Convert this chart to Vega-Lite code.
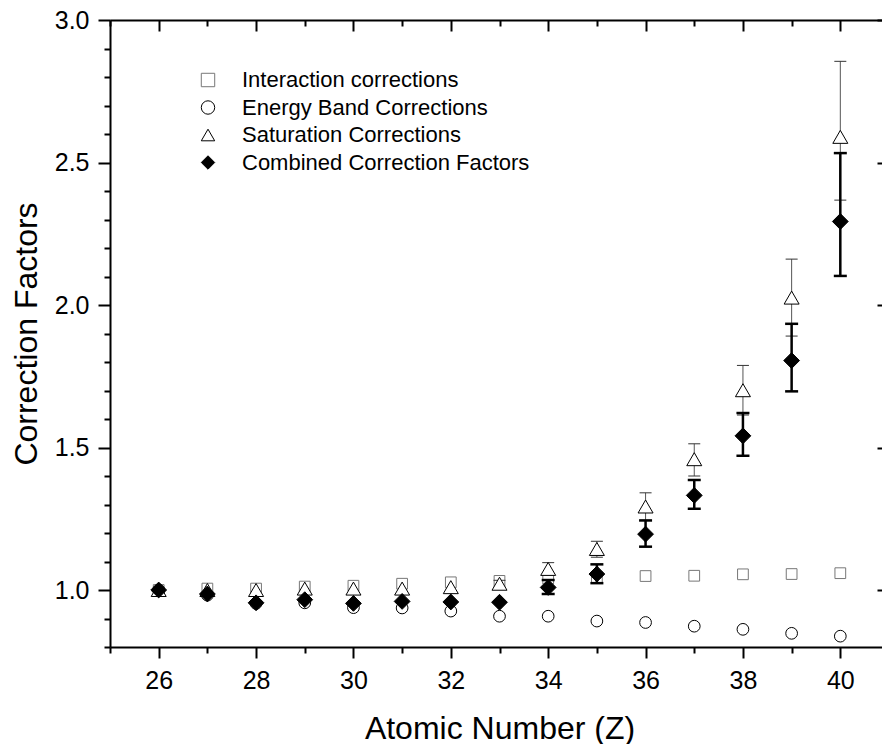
{
  "$schema": "https://vega.github.io/schema/vega-lite/v6.json",
  "width": 779,
  "height": 627,
  "autosize": {"type": "none"},
  "padding": {"left": 110, "top": 20, "right": -7, "bottom": 97},
  "background": "white",
  "config": {
    "view": {"stroke": null},
    "font": "Liberation Sans",
    "axis": {
      "grid": false,
      "domainColor": "black",
      "domainWidth": 2,
      "tickColor": "black",
      "tickWidth": 2,
      "labelFont": "Liberation Sans",
      "labelFontSize": 25,
      "labelColor": "black",
      "titleFont": "Liberation Sans",
      "titleFontSize": 32,
      "titleFontWeight": "normal",
      "titleColor": "black"
    },
    "legend": {
      "labelFont": "Liberation Sans",
      "labelFontSize": 22,
      "labelColor": "black",
      "labelLimit": 0,
      "symbolStrokeWidth": 1,
      "symbolSize": 180,
      "rowPadding": 5.5,
      "labelOffset": 23,
      "padding": 0
    }
  },
  "datasets": {
    "pts": [
      {"Z": 26, "series": "Interaction corrections", "value": 1.0},
      {"Z": 27, "series": "Interaction corrections", "value": 1.005},
      {"Z": 28, "series": "Interaction corrections", "value": 1.005},
      {"Z": 29, "series": "Interaction corrections", "value": 1.012},
      {"Z": 30, "series": "Interaction corrections", "value": 1.015},
      {"Z": 31, "series": "Interaction corrections", "value": 1.022},
      {"Z": 32, "series": "Interaction corrections", "value": 1.027},
      {"Z": 33, "series": "Interaction corrections", "value": 1.032},
      {"Z": 34, "series": "Interaction corrections", "value": 1.04},
      {"Z": 35, "series": "Interaction corrections", "value": 1.045},
      {"Z": 36, "series": "Interaction corrections", "value": 1.049},
      {"Z": 37, "series": "Interaction corrections", "value": 1.05},
      {"Z": 38, "series": "Interaction corrections", "value": 1.055},
      {"Z": 39, "series": "Interaction corrections", "value": 1.056},
      {"Z": 40, "series": "Interaction corrections", "value": 1.059},
      {"Z": 26, "series": "Energy Band Corrections", "value": 1.0},
      {"Z": 27, "series": "Energy Band Corrections", "value": 0.982},
      {"Z": 28, "series": "Energy Band Corrections", "value": 0.953},
      {"Z": 29, "series": "Energy Band Corrections", "value": 0.955},
      {"Z": 30, "series": "Energy Band Corrections", "value": 0.938},
      {"Z": 31, "series": "Energy Band Corrections", "value": 0.937},
      {"Z": 32, "series": "Energy Band Corrections", "value": 0.926},
      {"Z": 33, "series": "Energy Band Corrections", "value": 0.908},
      {"Z": 34, "series": "Energy Band Corrections", "value": 0.908},
      {"Z": 35, "series": "Energy Band Corrections", "value": 0.891},
      {"Z": 36, "series": "Energy Band Corrections", "value": 0.886},
      {"Z": 37, "series": "Energy Band Corrections", "value": 0.873},
      {"Z": 38, "series": "Energy Band Corrections", "value": 0.862},
      {"Z": 39, "series": "Energy Band Corrections", "value": 0.848},
      {"Z": 40, "series": "Energy Band Corrections", "value": 0.838},
      {"Z": 26, "series": "Saturation Corrections", "value": 1.0},
      {"Z": 27, "series": "Saturation Corrections", "value": 1.0},
      {"Z": 28, "series": "Saturation Corrections", "value": 1.0},
      {"Z": 29, "series": "Saturation Corrections", "value": 1.005},
      {"Z": 30, "series": "Saturation Corrections", "value": 1.005},
      {"Z": 31, "series": "Saturation Corrections", "value": 1.005},
      {"Z": 32, "series": "Saturation Corrections", "value": 1.01},
      {"Z": 33, "series": "Saturation Corrections", "value": 1.022},
      {"Z": 34, "series": "Saturation Corrections", "value": 1.074},
      {"Z": 35, "series": "Saturation Corrections", "value": 1.144},
      {"Z": 36, "series": "Saturation Corrections", "value": 1.293},
      {"Z": 37, "series": "Saturation Corrections", "value": 1.459},
      {"Z": 38, "series": "Saturation Corrections", "value": 1.701},
      {"Z": 39, "series": "Saturation Corrections", "value": 2.026},
      {"Z": 40, "series": "Saturation Corrections", "value": 2.59},
      {"Z": 26, "series": "Combined Correction Factors", "value": 1.0},
      {"Z": 27, "series": "Combined Correction Factors", "value": 0.986},
      {"Z": 28, "series": "Combined Correction Factors", "value": 0.955},
      {"Z": 29, "series": "Combined Correction Factors", "value": 0.966},
      {"Z": 30, "series": "Combined Correction Factors", "value": 0.953},
      {"Z": 31, "series": "Combined Correction Factors", "value": 0.96},
      {"Z": 32, "series": "Combined Correction Factors", "value": 0.958},
      {"Z": 33, "series": "Combined Correction Factors", "value": 0.957},
      {"Z": 34, "series": "Combined Correction Factors", "value": 1.009},
      {"Z": 35, "series": "Combined Correction Factors", "value": 1.056},
      {"Z": 36, "series": "Combined Correction Factors", "value": 1.196},
      {"Z": 37, "series": "Combined Correction Factors", "value": 1.332},
      {"Z": 38, "series": "Combined Correction Factors", "value": 1.541},
      {"Z": 39, "series": "Combined Correction Factors", "value": 1.805},
      {"Z": 40, "series": "Combined Correction Factors", "value": 2.293}
    ],
    "err": [
      {"Z": 33, "series": "Saturation Corrections", "lo": 1.010, "hi": 1.034},
      {"Z": 34, "series": "Saturation Corrections", "lo": 1.052, "hi": 1.096},
      {"Z": 35, "series": "Saturation Corrections", "lo": 1.115, "hi": 1.171},
      {"Z": 36, "series": "Saturation Corrections", "lo": 1.245, "hi": 1.341},
      {"Z": 37, "series": "Saturation Corrections", "lo": 1.400, "hi": 1.513},
      {"Z": 38, "series": "Saturation Corrections", "lo": 1.614, "hi": 1.788},
      {"Z": 39, "series": "Saturation Corrections", "lo": 1.891, "hi": 2.161},
      {"Z": 40, "series": "Saturation Corrections", "lo": 2.368, "hi": 2.855},
      {"Z": 34, "series": "Combined Correction Factors", "lo": 0.986, "hi": 1.035},
      {"Z": 35, "series": "Combined Correction Factors", "lo": 1.024, "hi": 1.090},
      {"Z": 36, "series": "Combined Correction Factors", "lo": 1.152, "hi": 1.244},
      {"Z": 37, "series": "Combined Correction Factors", "lo": 1.285, "hi": 1.386},
      {"Z": 38, "series": "Combined Correction Factors", "lo": 1.471, "hi": 1.621},
      {"Z": 39, "series": "Combined Correction Factors", "lo": 1.697, "hi": 1.934},
      {"Z": 40, "series": "Combined Correction Factors", "lo": 2.102, "hi": 2.533}
    ]
  },
  "layer": [
    {
      "data": {"name": "pts"},
      "transform": [{"filter": "datum.series === 'Interaction corrections'"}],
      "mark": {"type": "point", "strokeWidth": 1, "opacity": 1, "size": 115},
      "encoding": {
        "x": {"field": "Z", "type": "quantitative", "scale": {"domain": [25, 41], "nice": false, "zero": false},
          "axis": {"orient": "bottom", "values": [25,26,27,28,29,30,31,32,33,34,35,36,37,38,39,40,41], "format": "d",
            "labelExpr": "datum.value % 2 === 0 ? datum.label : ''",
            "tickSize": {"condition": {"test": "datum.value % 2 === 0", "value": 11}, "value": 6},
            "labelPadding": 10, "title": "Atomic Number (Z)", "titlePadding": 20}},
        "y": {"field": "value", "type": "quantitative", "scale": {"domain": [0.8, 3.0], "nice": false, "zero": false},
          "axis": {"orient": "left", "values": [0.8,0.9,1.0,1.1,1.2,1.3,1.4,1.5,1.6,1.7,1.8,1.9,2.0,2.1,2.2,2.3,2.4,2.5,2.6,2.7,2.8,2.9,3.0],
            "labelExpr": "round(datum.value*10) % 5 === 0 ? format(datum.value, '.1f') : ''",
            "tickSize": {"condition": {"test": "round(datum.value*10) % 5 === 0", "value": 12}, "value": 6},
            "labelPadding": 9, "title": "Correction Factors", "titlePadding": 11}},
        "shape": {"field": "series", "type": "nominal",
          "scale": {"domain": ["Interaction corrections", "Energy Band Corrections", "Saturation Corrections", "Combined Correction Factors"], "range": ["square", "circle", "triangle-up", "diamond"]},
          "legend": {"title": null, "orient": "none", "legendX": 87, "legendY": 49}},
        "fill": {"field": "series", "type": "nominal",
          "scale": {"domain": ["Interaction corrections", "Energy Band Corrections", "Saturation Corrections", "Combined Correction Factors"], "range": ["transparent", "transparent", "white", "black"]},
          "legend": {"title": null, "orient": "none", "legendX": 87, "legendY": 49}},
        "stroke": {"field": "series", "type": "nominal",
          "scale": {"domain": ["Interaction corrections", "Energy Band Corrections", "Saturation Corrections", "Combined Correction Factors"], "range": ["#777777", "black", "black", "black"]},
          "legend": {"title": null, "orient": "none", "legendX": 87, "legendY": 49}}
      }
    },
    {
      "data": {"name": "pts"},
      "transform": [{"filter": "datum.series === 'Energy Band Corrections'"}],
      "mark": {"type": "point", "strokeWidth": 1, "opacity": 1, "size": 137},
      "encoding": {
        "x": {"field": "Z", "type": "quantitative", "scale": {"domain": [25, 41], "nice": false, "zero": false}, "axis": null},
        "y": {"field": "value", "type": "quantitative", "scale": {"domain": [0.8, 3.0], "nice": false, "zero": false}, "axis": null},
        "shape": {"field": "series", "type": "nominal", "legend": {"title": null, "orient": "none", "legendX": 87, "legendY": 49}},
        "fill": {"field": "series", "type": "nominal", "legend": {"title": null, "orient": "none", "legendX": 87, "legendY": 49}},
        "stroke": {"field": "series", "type": "nominal", "legend": {"title": null, "orient": "none", "legendX": 87, "legendY": 49}}
      }
    },
    {
      "data": {"name": "err"},
      "transform": [{"filter": "datum.series === 'Saturation Corrections'"}],
      "mark": {"type": "rule", "color": "#555555", "strokeWidth": 1},
      "encoding": {
        "x": {"field": "Z", "type": "quantitative", "scale": {"domain": [25, 41], "nice": false, "zero": false},
          "axis": {"orient": "top", "values": [25,26,27,28,29,30,31,32,33,34,35,36,37,38,39,40,41], "labels": false, "title": null,
            "tickSize": {"condition": {"test": "datum.value % 2 === 0", "value": -11}, "value": -6}}},
        "y": {"field": "lo", "type": "quantitative", "scale": {"domain": [0.8, 3.0], "nice": false, "zero": false},
          "axis": {"orient": "right", "domain": false, "values": [0.8,0.9,1.0,1.1,1.2,1.3,1.4,1.5,1.6,1.7,1.8,1.9,2.0,2.1,2.2,2.3,2.4,2.5,2.6,2.7,2.8,2.9,3.0], "labels": false, "title": null,
            "tickSize": {"condition": {"test": "round(datum.value*10) % 5 === 0", "value": -12}, "value": -6}}},
        "y2": {"field": "hi"}
      }
    },
    {
      "data": {"name": "err"},
      "transform": [{"filter": "datum.series === 'Saturation Corrections'"}, {"fold": ["lo", "hi"], "as": ["end", "v"]}],
      "mark": {"type": "tick", "orient": "horizontal", "color": "#333333", "size": 12, "thickness": 1, "opacity": 1},
      "encoding": {
        "x": {"field": "Z", "type": "quantitative", "scale": {"domain": [25, 41], "nice": false, "zero": false}, "axis": null},
        "y": {"field": "v", "type": "quantitative", "scale": {"domain": [0.8, 3.0], "nice": false, "zero": false}, "axis": null}
      }
    },
    {
      "data": {"name": "pts"},
      "transform": [{"filter": "datum.series === 'Saturation Corrections'"}],
      "mark": {"type": "point", "strokeWidth": 1, "opacity": 1, "size": 225},
      "encoding": {
        "x": {"field": "Z", "type": "quantitative", "scale": {"domain": [25, 41], "nice": false, "zero": false}, "axis": null},
        "y": {"field": "value", "type": "quantitative", "scale": {"domain": [0.8, 3.0], "nice": false, "zero": false}, "axis": null},
        "shape": {"field": "series", "type": "nominal", "legend": {"title": null, "orient": "none", "legendX": 87, "legendY": 49}},
        "fill": {"field": "series", "type": "nominal", "legend": {"title": null, "orient": "none", "legendX": 87, "legendY": 49}},
        "stroke": {"field": "series", "type": "nominal", "legend": {"title": null, "orient": "none", "legendX": 87, "legendY": 49}}
      }
    },
    {
      "data": {"name": "err"},
      "transform": [{"filter": "datum.series === 'Combined Correction Factors'"}],
      "mark": {"type": "rule", "color": "black", "strokeWidth": 2.5},
      "encoding": {
        "x": {"field": "Z", "type": "quantitative", "scale": {"domain": [25, 41], "nice": false, "zero": false}, "axis": null},
        "y": {"field": "lo", "type": "quantitative", "scale": {"domain": [0.8, 3.0], "nice": false, "zero": false}, "axis": null},
        "y2": {"field": "hi"}
      }
    },
    {
      "data": {"name": "err"},
      "transform": [{"filter": "datum.series === 'Combined Correction Factors'"}, {"fold": ["lo", "hi"], "as": ["end", "v"]}],
      "mark": {"type": "tick", "orient": "horizontal", "color": "black", "size": 13, "thickness": 2.5, "opacity": 1},
      "encoding": {
        "x": {"field": "Z", "type": "quantitative", "scale": {"domain": [25, 41], "nice": false, "zero": false}, "axis": null},
        "y": {"field": "v", "type": "quantitative", "scale": {"domain": [0.8, 3.0], "nice": false, "zero": false}, "axis": null}
      }
    },
    {
      "data": {"name": "pts"},
      "transform": [{"filter": "datum.series === 'Combined Correction Factors'"}],
      "mark": {"type": "point", "strokeWidth": 1, "opacity": 1, "size": 250},
      "encoding": {
        "x": {"field": "Z", "type": "quantitative", "scale": {"domain": [25, 41], "nice": false, "zero": false}, "axis": null},
        "y": {"field": "value", "type": "quantitative", "scale": {"domain": [0.8, 3.0], "nice": false, "zero": false}, "axis": null},
        "shape": {"field": "series", "type": "nominal", "legend": {"title": null, "orient": "none", "legendX": 87, "legendY": 49}},
        "fill": {"field": "series", "type": "nominal", "legend": {"title": null, "orient": "none", "legendX": 87, "legendY": 49}},
        "stroke": {"field": "series", "type": "nominal", "legend": {"title": null, "orient": "none", "legendX": 87, "legendY": 49}}
      }
    }
  ],
  "resolve": {
    "scale": {"x": "independent", "y": "independent"},
    "axis": {"x": "independent", "y": "independent"}
  }
}
